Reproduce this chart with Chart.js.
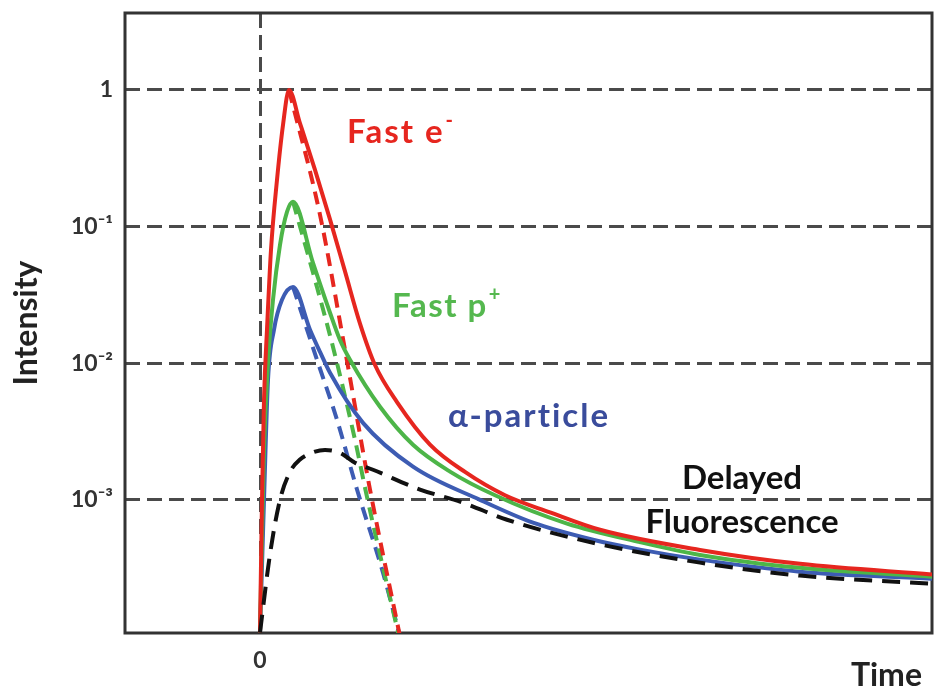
<!DOCTYPE html>
<html>
<head>
<meta charset="utf-8">
<script src="https://cdn.jsdelivr.net/npm/chart.js@4/dist/chart.umd.min.js"></script>
<style>
  html, body { margin: 0; padding: 0; background: #fff; }
  #wrap { width: 940px; height: 698px; }
</style>
</head>
<body>
<div id="wrap"><canvas id="chart" width="940" height="698"></canvas></div>
<script>
const yTickValues = [1, 0.1, 0.01, 0.001];
const yTickLabels = ['1', '10⁻¹', '10⁻²', '10⁻³'];
const xTickValues = [0];
const xTickLabels = ['0'];

// Fast e- : total (solid) and prompt (dashed)
const fastETime = [0, 0.2, 0.4, 0.7, 1.1, 1.7, 2.3, 2.9, 4.0, 5.5, 7.0, 8.5, 10.0, 11.5, 13.7, 17.0, 20.5, 24.5, 29.0, 34.0, 44.0, 54.0, 67.2];
const fastEIntensity = [1.07e-4, 0.001, 0.0054, 0.0176, 0.0676, 0.22, 0.555, 1, 0.57, 0.26, 0.113, 0.047, 0.0195, 0.0097, 0.0052, 0.00254, 0.0016, 0.00108, 0.00081, 0.000604, 0.00043, 0.00034, 0.000284];
const fastEPromptTime = [2.9, 6.0, 8.5, 11.0, 14.0];
const fastEPromptIntensity = [1, 0.122, 0.01253, 0.00119, 1e-4];

// Fast p+
const fastPTime = [0, 0.4, 0.8, 1.3, 2.0, 2.7, 3.3, 5.3, 7.0, 8.0, 9.0, 12.0, 15.3, 19.0, 23.5, 30.7, 38.0, 44.0, 54.0, 67.2];
const fastPIntensity = [1.07e-4, 0.00232, 0.0102, 0.0291, 0.0735, 0.128, 0.152, 0.0542, 0.0234, 0.0148, 0.0106, 0.0048, 0.00253, 0.00161, 0.00108, 0.00067, 0.00049, 0.000395, 0.000318, 0.000274];
const fastPPromptTime = [3.3, 5.5, 7.5, 9.5, 10.7, 13.9];
const fastPPromptIntensity = [0.152, 0.0407, 0.0115, 0.00275, 0.00105, 1e-4];

// alpha particle
const alphaTime = [0, 0.4, 0.8, 1.4, 2.2, 3.3, 5.0, 6.0, 7.0, 10.3, 15.3, 22.0, 27.3, 33.3, 38.0, 44.0, 54.0, 67.2];
const alphaIntensity = [1.07e-4, 0.001, 0.00756, 0.0176, 0.0291, 0.0362, 0.0176, 0.0121, 0.00851, 0.00366, 0.00175, 0.001, 0.00068, 0.00051, 0.000432, 0.000365, 0.000298, 0.000265];
const alphaPromptTime = [3.3, 5.7, 7.7, 9.7, 12.3, 14.0];
const alphaPromptIntensity = [0.0362, 0.0106, 0.00386, 0.00119, 0.000293, 1e-4];

// delayed fluorescence
const delayedTime = [0, 1.0, 2.0, 3.0, 4.0, 5.2, 6.5, 8.0, 9.5, 11.3, 16.0, 20.3, 24.7, 33.3, 44.0, 54.0, 67.2];
const delayedIntensity = [1.07e-4, 0.0004, 0.001, 0.0016, 0.00197, 0.00221, 0.00232, 0.00221, 0.00187, 0.00166, 0.00119, 0.000953, 0.000715, 0.000485, 0.000347, 0.000279, 0.000243];

const RED = '#e6261f';
const GREEN = '#4db548';
const BLUE = '#3d5cb3';
const FONT = "Lato, 'Open Sans', sans-serif";

function pts(xs, ys) {
    return xs.map((x, i) => ({ x: x, y: ys[i] }));
}

// text labels next to the curves, anchored in data units
const curveLabels = [
    { text: 'Fast e', sup: '-', x: 8.7, y: 0.41, color: RED, align: 'left', spacing: 2 },
    { text: 'Fast p', sup: '+', x: 13.2, y: 0.0218, color: '#55b84f', align: 'left', spacing: 1.5 },
    { text: 'α-particle', x: 18.8, y: 0.00343, color: '#3a4c9c', align: 'left', spacing: 2 },
    { text: 'Delayed', x: 48.2, y: 0.00121, color: '#111', align: 'center', spacing: 0 },
    { text: 'Fluorescence', x: 48.2, y: 0.000574, color: '#111', align: 'center', spacing: 0 }
];

const frame = {
    id: 'frame',
    beforeDatasetsDraw(chart) {
        const { ctx, chartArea: a } = chart;
        ctx.save();
        ctx.strokeStyle = '#333';
        ctx.lineWidth = 3;
        ctx.strokeRect(a.left, a.top, a.right - a.left, a.bottom - a.top);
        ctx.restore();
    },
    afterDatasetsDraw(chart) {
        const { ctx, chartArea: a } = chart;
        const xs = chart.scales.x, ys = chart.scales.y;
        ctx.save();
        ctx.textBaseline = 'alphabetic';
        curveLabels.forEach(l => {
            const px = xs.getPixelForValue(l.x);
            const py = ys.getPixelForValue(l.y);
            ctx.font = 'bold 33px ' + FONT;
            ctx.letterSpacing = l.spacing + 'px';
            ctx.fillStyle = l.color;
            ctx.textAlign = l.align;
            ctx.fillText(l.text, px, py);
            if (l.sup) {
                const w = ctx.measureText(l.text).width;
                ctx.letterSpacing = '0px';
                ctx.font = 'bold 20px ' + FONT;
                ctx.textAlign = 'left';
                ctx.fillText(l.sup, px + w + 1, py - 16);
            }
        });
        // axis name at the lower right corner
        ctx.letterSpacing = '0px';
        ctx.font = 'bold 32px ' + FONT;
        ctx.fillStyle = '#222';
        ctx.textAlign = 'right';
        ctx.fillText('Time', a.right - 10, 686);
        ctx.restore();
    }
};

const ctx = document.getElementById('chart').getContext('2d');
new Chart(ctx, {
    type: 'line',
    data: {
        datasets: [
            { data: pts(delayedTime, delayedIntensity), borderColor: '#111', borderDash: [18, 10] },
            { data: pts(fastETime, fastEIntensity), borderColor: RED },
            { data: pts(fastPTime, fastPIntensity), borderColor: GREEN },
            { data: pts(alphaTime, alphaIntensity), borderColor: BLUE },
            { data: pts(fastEPromptTime, fastEPromptIntensity), borderColor: RED, borderDash: [13, 8] },
            { data: pts(fastPPromptTime, fastPPromptIntensity), borderColor: GREEN, borderDash: [13, 8] },
            { data: pts(alphaPromptTime, alphaPromptIntensity), borderColor: BLUE, borderDash: [13, 8] }
        ]
    },
    options: {
        responsive: false,
        animation: false,
        layout: { padding: { top: 13, right: 8, left: 0, bottom: 0 } },
        plugins: { legend: { display: false }, tooltip: { enabled: false } },
        elements: {
            point: { radius: 0 },
            line: { borderWidth: 4, cubicInterpolationMode: 'monotone', fill: false }
        },
        scales: {
            x: {
                type: 'linear',
                min: -13.5,
                max: 67.2,
                afterBuildTicks: s => { s.ticks = xTickValues.map(v => ({ value: v })); },
                afterFit: s => { s.height = 65; s.paddingLeft = 0; s.paddingRight = 0; },
                ticks: {
                    autoSkip: false,
                    maxRotation: 0,
                    padding: 14,
                    color: '#333',
                    font: { family: FONT, size: 23, weight: 'bold' },
                    callback: v => {
                        const i = xTickValues.indexOf(v);
                        return i >= 0 ? xTickLabels[i] : '';
                    }
                },
                grid: { color: '#4a4a4a', lineWidth: 3, drawTicks: false },
                border: { display: false, dash: [15, 7] },
                title: { display: false }
            },
            y: {
                type: 'logarithmic',
                min: 1.06e-4,
                max: 3.66,
                afterBuildTicks: s => { s.ticks = yTickValues.map(v => ({ value: v })); },
                afterFit: s => { s.width = 125; s.paddingTop = 0; s.paddingBottom = 0; },
                ticks: {
                    padding: 12,
                    color: '#333',
                    font: { family: FONT, size: 23, weight: 'bold' },
                    callback: v => {
                        const i = yTickValues.findIndex(t => Math.abs(t - v) / t < 1e-6);
                        return i >= 0 ? yTickLabels[i] : '';
                    }
                },
                grid: { color: '#4a4a4a', lineWidth: 3, drawTicks: false },
                border: { display: false, dash: [15, 7] },
                title: {
                    display: true, text: 'Intensity', color: '#222',
                    font: { family: FONT, size: 32, weight: 'bold' },
                    padding: { top: 7, bottom: 0 }
                }
            }
        }
    },
    plugins: [frame]
});
</script>
</body>
</html>
